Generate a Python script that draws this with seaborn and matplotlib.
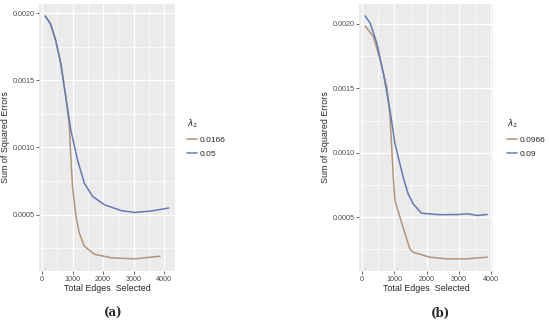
import numpy as np
import pandas as pd
import seaborn as sns
import matplotlib.pyplot as plt
from matplotlib.ticker import MultipleLocator, FormatStrFormatter

# --- data ---
a_red_x = [100, 275, 441, 607, 773, 883, 939, 995, 1104, 1214, 1380, 1711, 2265, 3038, 3867]
a_red_y = [0.00198, 0.00192, 0.00180, 0.00163, 0.00138, 0.00118, 0.00093, 0.00071,
           0.00049, 0.000364, 0.000265, 0.000204, 0.000178, 0.000170, 0.000190]
a_blue_x = [100, 275, 441, 607, 773, 939, 1160, 1380, 1658, 2043, 2597, 3038, 3592, 4150]
a_blue_y = [0.00198, 0.00192, 0.00180, 0.00163, 0.00138, 0.00113, 0.000907, 0.000734,
            0.000635, 0.000573, 0.000529, 0.000516, 0.000527, 0.000549]

b_red_x = [100, 355, 560, 764, 865, 967, 1018, 1171, 1477, 1578, 2089, 2600, 3211, 3872]
b_red_y = [0.001984, 0.00190, 0.00172, 0.001512, 0.00129, 0.00081, 0.000629, 0.00050,
           0.000253, 0.000227, 0.000188, 0.000175, 0.000175, 0.000188]
b_blue_x = [100, 254, 459, 661, 865, 1018, 1273, 1425, 1578, 1835, 2394, 3006, 3261, 3567, 3872]
b_blue_y = [0.002062, 0.002005, 0.00185, 0.001616, 0.00133, 0.001071, 0.00081, 0.000681,
            0.000604, 0.00053, 0.000518, 0.00052, 0.000525, 0.000512, 0.00052]

a_labels = ['0.0166', '0.05']
b_labels = ['0.0966', '0.09']
captions = ['(a)', '(b)']
colors = ['#b39479', '#6479b5']


def make_df(rx, ry, bx, by, labels):
    d1 = pd.DataFrame({'edges': rx, 'sse': ry, 'lam': labels[0]})
    d2 = pd.DataFrame({'edges': bx, 'sse': by, 'lam': labels[1]})
    return pd.concat([d1, d2], ignore_index=True)


sns.set_theme(style='darkgrid', rc={
    'axes.facecolor': '#EBEBEB', 'grid.color': 'white',
    'xtick.color': '#4d4d4d', 'ytick.color': '#4d4d4d',
    'xtick.bottom': True, 'ytick.left': True,
    'xtick.major.size': 2, 'ytick.major.size': 2,
    'xtick.major.width': 0.6, 'ytick.major.width': 0.6,
    'xtick.major.pad': 1.5, 'ytick.major.pad': 1.2,
})
plt.rcParams['font.family'] = ['Liberation Sans', 'DejaVu Sans']

fig = plt.figure(figsize=(5.5, 3.23), dpi=100)
ax_a = fig.add_axes([0.071, 0.161, 0.247, 0.827])
ax_b = fig.add_axes([0.653, 0.161, 0.244, 0.827])

panels = [
    (ax_a, make_df(a_red_x, a_red_y, a_blue_x, a_blue_y, a_labels), a_labels, 187 / 550),
    (ax_b, make_df(b_red_x, b_red_y, b_blue_x, b_blue_y, b_labels), b_labels, 507 / 550),
]

for i, (ax, df, labels, leg_x) in enumerate(panels):
    sns.lineplot(data=df, x='edges', y='sse', hue='lam', hue_order=labels,
                 palette=colors, linewidth=1.1, ax=ax, sort=False)
    # ggplot-style 5% expansion
    xmin, xmax = df['edges'].min(), df['edges'].max()
    ymin, ymax = df['sse'].min(), df['sse'].max()
    ax.set_xlim(xmin - 0.05 * (xmax - xmin), xmax + 0.05 * (xmax - xmin))
    ax.set_ylim(ymin - 0.05 * (ymax - ymin), ymax + 0.05 * (ymax - ymin))
    ax.xaxis.set_major_locator(MultipleLocator(1000))
    ax.xaxis.set_minor_locator(MultipleLocator(500))
    ax.yaxis.set_major_locator(MultipleLocator(0.0005))
    ax.yaxis.set_minor_locator(MultipleLocator(0.00025))
    ax.yaxis.set_major_formatter(FormatStrFormatter('%.4f'))
    ax.grid(which='major', color='white', linewidth=0.9)
    ax.grid(which='minor', color='white', linewidth=0.45)
    ax.tick_params(which='minor', length=0)
    ax.tick_params(labelsize=5.2)
    for s in ax.spines.values():
        s.set_visible(False)
    ax.set_xlabel('Total Edges  Selected', fontsize=6.4, labelpad=1)
    ax.set_ylabel('Sum of Squared Errors', fontsize=6.4, labelpad=2)
    ax.legend(title=r'$\lambda_2$', loc='upper left', bbox_to_anchor=(leg_x, 1 - 117 / 323),
              bbox_transform=fig.transFigure, borderpad=0, borderaxespad=0,
              frameon=False, fontsize=6, title_fontsize=6.5, handlelength=1.2,
              handletextpad=0.35, labelspacing=0.75, alignment='left')
    ax.get_legend()._legend_box.sep = 5

fig.text(113 / 550, 1 - 313 / 323, captions[0], ha='center', va='center',
         fontsize=8.5, fontweight='bold', family='DejaVu Serif')
fig.text(441 / 550, 1 - 313 / 323, captions[1], ha='center', va='center',
         fontsize=8.5, fontweight='bold', family='DejaVu Serif')

fig.savefig('out.png', dpi=100)
